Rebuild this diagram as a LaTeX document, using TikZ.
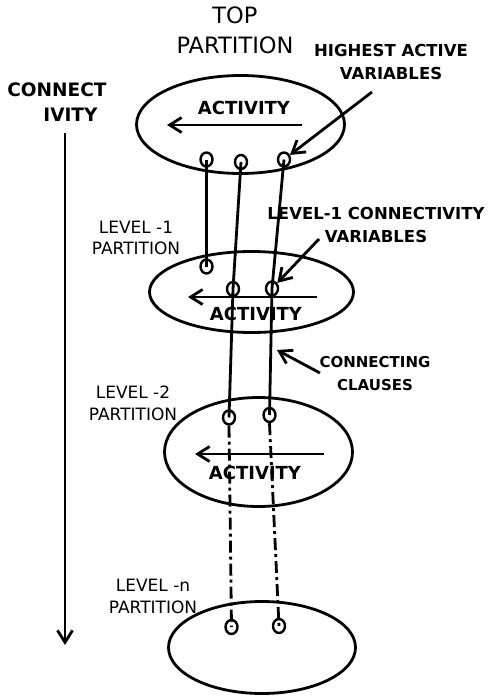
\documentclass[tikz,border=0pt]{standalone}
\usepackage{fontspec}
\setmainfont{DejaVu Sans}
\usetikzlibrary{shapes.geometric}
\usetikzlibrary{arrows.meta}

\begin{document}
\begin{tikzpicture}[x=1pt,y=-1pt,line width=2.8pt,
  part/.style={draw, ellipse, inner sep=0pt},
  var/.style={draw, ellipse, inner sep=0pt, minimum width=12pt, minimum height=14pt, line width=2.4pt},
  flow/.style={-{Straight Barb[length=12pt,width=15pt]}},
  lvl/.style={align=center, inner sep=0pt, font=\fontsize{17}{21.5}\selectfont},
  note/.style={align=center, inner sep=0pt, font=\bfseries\fontsize{16.5}{22.5}\selectfont},
  act/.style={inner sep=0pt, font=\bfseries\fontsize{18}{20}\selectfont},
  dashdot/.style={dash pattern=on 12pt off 4pt on 3pt off 4pt}
]
\useasboundingbox (0,0) rectangle (488,698);

% partitions
\node[part, minimum width=208pt, minimum height=98pt] (top) at (240.5,124.5) {};
\node[part, minimum width=204pt, minimum height=81pt] (lone) at (251.5,292) {};
\node[part, minimum width=188pt, minimum height=109pt] (ltwo) at (258.5,452) {};
\node[part, minimum width=187pt, minimum height=92pt] (lnn) at (262,647.5) {};

% labels
\node[align=center, inner sep=0pt, font=\fontsize{22.5}{30}\selectfont] (toplbl) at (235,30) {TOP\\PARTITION};
\node[lvl] (lonelbl) at (136,238) {LEVEL -1\\PARTITION};
\node[lvl] (ltwolbl) at (133,403.5) {LEVEL -2\\PARTITION};
\node[lvl] (lnnlbl) at (153,596.5) {LEVEL -n\\PARTITION};
\node[note, align=left, anchor=west, font=\bfseries\fontsize{18.5}{24.5}\selectfont] (conn) at (6,102) {CONNECT\\\hspace*{36pt}IVITY};
\node[note] (hav) at (391,62) {HIGHEST ACTIVE\\VARIABLES};
\node[note] (lcv) at (376,225) {LEVEL-1 CONNECTIVITY\\VARIABLES};
\node[note, font=\bfseries\fontsize{15}{22.5}\selectfont] (cc) at (375,373.5) {CONNECTING\\CLAUSES};

% activity
\coordinate (topr) at (302,125);
\coordinate (topl) at (167,125);
\draw[flow] (topr) -- (topl);
\node[act] (topact) at (244,108) {ACTIVITY};
\coordinate (loner) at (317,297);
\coordinate (lonel) at (188,297);
\draw[flow] (loner) -- (lonel);
\node[act] (loneact) at (256,313.5) {ACTIVITY};
\coordinate (ltwor) at (324,454);
\coordinate (ltwol) at (195,454);
\draw[flow] (ltwor) -- (ltwol);
\node[act] (ltwoact) at (255,472.5) {ACTIVITY};

% variables
\node[var] (t1) at (206.5,159.5) {};
\node[var] (t2) at (241,162) {};
\node[var] (t3) at (284,159.5) {};
\node[var] (a1) at (206.5,266.5) {};
\node[var] (a2) at (233,289) {};
\node[var] (a3) at (272,288.5) {};
\node[var] (b1) at (229,417.5) {};
\node[var] (b2) at (269.5,415) {};
\node[var] (c1) at (231.5,627) {};
\node[var] (c2) at (279,626) {};

% connecting clauses
\draw (t1.center) -- (a1.center);
\draw (t2.center) -- (a2.center) -- (b1.center);
\draw (t3.center) -- (a3.center) -- (b2.center);
\draw[dashdot] (b1.south) -- (c1.center);
\draw[dashdot] (b2.south) -- (c2.center);

% pointers
\coordinate (ctop) at (65,133);
\coordinate (cbot) at (65,645);
\draw[flow] (ctop) -- (cbot);
\coordinate (havtail) at (372,92);
\draw[flow] (havtail) -- (t3);
\coordinate (lcvtail) at (319,239);
\draw[flow] (lcvtail) -- (a3);
\coordinate (cctail) at (320,373);
\coordinate (cchead) at (277,350);
\draw[flow] (cctail) -- (cchead);
\end{tikzpicture}
\end{document}
